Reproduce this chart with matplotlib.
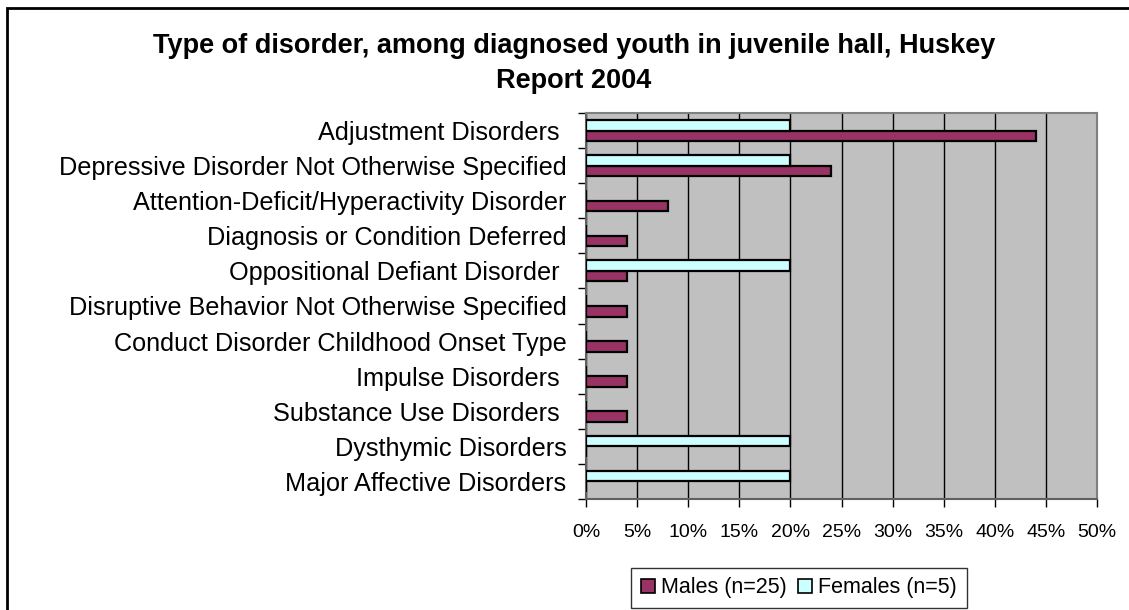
import matplotlib
matplotlib.use("Agg")
import matplotlib.pyplot as plt
from matplotlib.patches import Rectangle, Patch
from matplotlib.ticker import FuncFormatter, FixedLocator, NullFormatter
import numpy as np

plt.rcParams['font.family'] = ['Liberation Sans', 'DejaVu Sans']

categories = [
    "Adjustment Disorders ",
    "Depressive Disorder Not Otherwise Specified",
    "Attention-Deficit/Hyperactivity Disorder",
    "Diagnosis or Condition Deferred",
    "Oppositional Defiant Disorder ",
    "Disruptive Behavior Not Otherwise Specified",
    "Conduct Disorder Childhood Onset Type",
    "Impulse Disorders ",
    "Substance Use Disorders ",
    "Dysthymic Disorders",
    "Major Affective Disorders",
]
males = [44, 24, 8, 4, 4, 4, 4, 4, 4, 0, 0]
females = [20, 20, 0, 0, 20, 0, 0, 0, 0, 20, 20]
x_ticks = [0, 5, 10, 15, 20, 25, 30, 35, 40, 45, 50]

W, H = 1129, 610
fig = plt.figure(figsize=(W / 100, H / 100), dpi=100)
fig.patch.set_facecolor('white')

# chart-area border (runs off the right and bottom edges)
fig.patches.append(Rectangle((7 / W, -0.05), 1.2, 1 - 8 / H + 0.05,
                             transform=fig.transFigure, fill=False,
                             edgecolor='black', linewidth=2, zorder=0))

left, right, top, bottom = 586, 1097, 113, 499
ax = fig.add_axes([left / W, 1 - bottom / H, (right - left) / W, (bottom - top) / H])
ax.set_facecolor('#C0C0C0')

y = np.arange(len(categories))
bh = 0.3
ax.barh(y + bh / 2, males, height=bh, color='#993366', edgecolor='black',
        linewidth=1.6, zorder=3, label='Males (n=25)')
ax.barh(y - bh / 2, females, height=bh, color='#CCFFFF', edgecolor='black',
        linewidth=1.6, zorder=3, label='Females (n=5)')

ax.set_xlim(0, 50)
ax.set_ylim(len(categories) - 0.5, -0.5)

ax.set_xticks(x_ticks)
ax.xaxis.set_major_formatter(FuncFormatter(lambda v, p: f"{int(v)}%"))
ax.tick_params(axis='x', direction='out', length=6, width=1, color='black',
               labelsize=14, pad=12)
ax.grid(axis='x', color='black', linewidth=1, zorder=1)

# category boundaries get the tick marks, centres get the labels
ax.yaxis.set_major_locator(FixedLocator(np.arange(-0.5, len(categories), 1.0)))
ax.yaxis.set_major_formatter(NullFormatter())
ax.yaxis.set_minor_locator(FixedLocator(y))
ax.set_yticklabels(categories, minor=True)
ax.tick_params(axis='y', which='major', direction='out', length=6, width=1, color='black')
ax.tick_params(axis='y', which='minor', length=0, labelsize=18.2, pad=14)

for s in ['top', 'right']:
    ax.spines[s].set_color('#808080')
    ax.spines[s].set_linewidth(1.5)
for s in ['left', 'bottom']:
    ax.spines[s].set_color('#606060')
    ax.spines[s].set_linewidth(1.5)

fig.text(574 / W, 1 - 46 / H,
         "Type of disorder, among diagnosed youth in juvenile hall, Huskey",
         ha='center', va='center', fontsize=19.5, fontweight='bold')
fig.text(574 / W, 1 - 81 / H, "Report 2004",
         ha='center', va='center', fontsize=19.5, fontweight='bold')

handles = [Patch(facecolor='#993366', edgecolor='black', linewidth=1.2),
           Patch(facecolor='#CCFFFF', edgecolor='black', linewidth=1.2)]
leg = fig.legend(handles, ['Males (n=25)', 'Females (n=5)'], ncol=2,
                 loc='center', bbox_to_anchor=(799 / W, 1 - 588 / H),
                 fontsize=15.5, frameon=True, fancybox=False, shadow=False,
                 handlelength=0.65, handleheight=0.65, handletextpad=0.3,
                 columnspacing=0.5, borderpad=0.45, borderaxespad=0)
leg.get_frame().set_edgecolor('black')
leg.get_frame().set_linewidth(1)

fig.savefig('out.png', dpi=100)
